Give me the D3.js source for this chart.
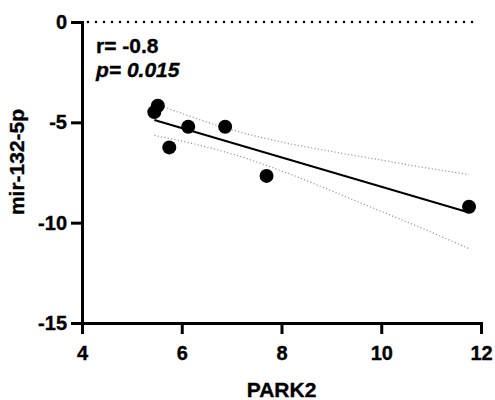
<!DOCTYPE html>
<html>
<head>
<meta charset="utf-8">
<script src="https://cdn.jsdelivr.net/npm/d3@7"></script>
<style>
  body { margin: 0; background: #fff; }
  text { font-family: "Liberation Sans", Arial, sans-serif; font-weight: bold; stroke: #000; stroke-width: 0.35px; }
</style>
</head>
<body>
<div id="chart"></div>
<script>
// Data
const park2 = [5.52, 5.45, 6.13, 6.87, 5.75, 7.70, 11.76];
const mir132 = [-4.17, -4.49, -5.22, -5.22, -6.25, -7.67, -9.21];

// 95% confidence band of the fit
const bandX = [5.45, 6.2, 7.0, 8.0, 9.0, 10.0, 11.0, 11.76];
const bandUpper = [-4.05, -4.73, -5.37, -5.98, -6.45, -6.88, -7.31, -7.60];
const bandLower = [-5.65, -6.05, -6.57, -7.42, -8.41, -9.44, -10.47, -11.30];

const xTicks = [4, 6, 8, 10, 12];
const yTicks = [0, -5, -10, -15];

(function() {
  const width = 495;
  const height = 400;
  const margin = { top: 22, right: 14, bottom: 77, left: 82 };

  const svg = d3.select('#chart')
    .append('svg')
    .attr('width', width)
    .attr('height', height);

  const x = d3.scaleLinear().domain([4, 12]).range([margin.left, width - margin.right]);
  const y = d3.scaleLinear().domain([-15, 0]).range([height - margin.bottom, margin.top]);

  // dotted zero line
  svg.append('line')
    .attr('x1', x(4) + 6)
    .attr('x2', x(11.85))
    .attr('y1', y(0))
    .attr('y2', y(0))
    .attr('stroke', '#000')
    .attr('stroke-width', 2.6)
    .attr('stroke-linecap', 'round')
    .attr('stroke-dasharray', '0,8');

  // confidence band
  const band = d3.line().x(d => x(d[0])).y(d => y(d[1])).curve(d3.curveMonotoneX);
  [bandUpper, bandLower].forEach(vals => {
    svg.append('path')
      .attr('d', band(bandX.map((v, i) => [v, vals[i]])))
      .attr('fill', 'none')
      .attr('stroke', '#999')
      .attr('stroke-width', 1.2)
      .attr('stroke-dasharray', '1.2,2.2');
  });

  // least squares fit
  const mx = d3.mean(park2), my = d3.mean(mir132);
  let sxy = 0, sxx = 0;
  park2.forEach((v, i) => { sxy += (v - mx) * (mir132[i] - my); sxx += (v - mx) * (v - mx); });
  const slope = sxy / sxx;
  const icpt = my - slope * mx;
  const [x0, x1] = d3.extent(park2);
  svg.append('line')
    .attr('x1', x(x0)).attr('y1', y(icpt + slope * x0))
    .attr('x2', x(x1)).attr('y2', y(icpt + slope * x1))
    .attr('stroke', '#000')
    .attr('stroke-width', 2);

  // points
  svg.selectAll('.pt')
    .data(park2.map((v, i) => [v, mir132[i]]))
    .enter()
    .append('circle')
    .attr('class', 'pt')
    .attr('cx', d => x(d[0]))
    .attr('cy', d => y(d[1]))
    .attr('r', 7)
    .attr('fill', '#000');

  // axes
  const fmt = d => String(d);
  const xAxis = svg.append('g')
    .attr('transform', `translate(0,${y(-15)})`)
    .call(d3.axisBottom(x).tickValues(xTicks).tickFormat(fmt).tickSize(11).tickSizeOuter(0).tickPadding(12));
  const yAxis = svg.append('g')
    .attr('transform', `translate(${x(4)},0)`)
    .call(d3.axisLeft(y).tickValues(yTicks).tickFormat(fmt).tickSize(11).tickSizeOuter(0).tickPadding(4));

  [xAxis, yAxis].forEach(g => {
    g.select('.domain').attr('stroke-width', 3).attr('stroke-linecap', 'square');
    g.selectAll('.tick line').attr('stroke-width', 3);
    g.selectAll('.tick text')
      .attr('fill', '#000')
      .style('font-size', '20px')
      .style('font-family', '"Liberation Sans", Arial, sans-serif')
      .style('font-weight', 'bold');
  });

  // axis titles
  svg.append('text')
    .attr('x', (x(4) + x(12)) / 2)
    .attr('y', 397)
    .attr('text-anchor', 'middle')
    .attr('font-size', '21px')
    .text('PARK2');

  svg.append('text')
    .attr('transform', 'translate(24,162) rotate(-90)')
    .attr('text-anchor', 'middle')
    .attr('font-size', '21px')
    .text('mir-132-5p');

  // stats
  svg.append('text')
    .attr('x', 96)
    .attr('y', 53)
    .attr('font-size', '21px')
    .text('r= -0.8');

  svg.append('text')
    .attr('x', 96)
    .attr('y', 77)
    .attr('font-size', '21px')
    .attr('font-style', 'italic')
    .text('p= 0.015');
})();
</script>
</body>
</html>
